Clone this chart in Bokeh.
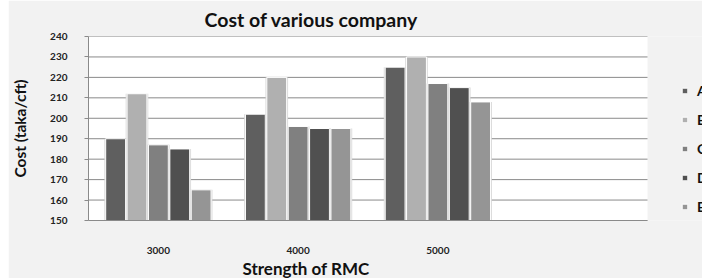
from bokeh.plotting import figure
from bokeh.models import (Range1d, FixedTicker, Legend, LegendItem, Title, ColumnDataSource,
                          BoxAnnotation)
from bokeh.embed import file_html
from bokeh.resources import INLINE

# ---- data ----
strengths = ["3000", "4000", "5000"]
companies = ["A", "B", "C", "D", "E"]
cost_A = [190, 202, 225]
cost_B = [212, 220, 230]
cost_C = [187, 196, 217]
cost_D = [185, 195, 215]
cost_E = [165, 195, 208]
y_ticks = [150, 160, 170, 180, 190, 200, 210, 220, 230, 240]

series = [cost_A, cost_B, cost_C, cost_D, cost_E]
colors = ["#5f5f5f", "#b0b0b0", "#808080", "#505050", "#959595"]
BG = "#f2f2f2"
FONT = "Lato"
GRID = "#8a8a8a"

# plot area (white) spans 4 category slots; legend area sits to its right inside the frame
n_slots = len(strengths) + 1
plot_w, frame_w, frame_h = 559, 614, 184
x_end = n_slots * frame_w / plot_w

p = figure(frame_width=frame_w, frame_height=frame_h, output_backend="svg", toolbar_location=None,
           x_range=Range1d(0, x_end), y_range=Range1d(y_ticks[0], y_ticks[-1]),
           min_border_left=80, min_border_right=0, min_border_top=36, min_border_bottom=58)
p.margin = (0, 0, 0, 8)
p.background_fill_color = BG
p.border_fill_color = BG
p.outline_line_color = None
p.add_layout(BoxAnnotation(left=0, right=n_slots, fill_color="white", fill_alpha=1,
                           line_color=None, level="underlay"))

# horizontal grid lines limited to the plot area
p.segment(x0=[0] * len(y_ticks), x1=[n_slots] * len(y_ticks), y0=y_ticks, y1=y_ticks,
          line_color=GRID, line_width=1)

centers = [i + 0.5 for i in range(len(strengths))]
pitch = 0.153
bw = 0.142
bar_renderers = []
for k, (name, vals, col) in enumerate(zip(companies, series, colors)):
    xs = [c + (k - 2) * pitch for c in centers]
    src = ColumnDataSource(dict(x=xs, top=vals))
    p.vbar(x="x", top="top", bottom=y_ticks[0], width=bw + 0.02, source=src,
           fill_color="#d6d6d6", line_color=None, fill_alpha=0.9)
    r = p.vbar(x="x", top="top", bottom=y_ticks[0], width=bw, source=src,
               fill_color=col, line_color="white", line_width=1)
    bar_renderers.append(r)

# legend
items = [LegendItem(label=name, renderers=[r]) for name, r in zip(companies, bar_renderers)]
legend = Legend(items=items, location=(593, 4), orientation="vertical",
                glyph_width=7, glyph_height=7, label_height=20, spacing=9,
                label_standoff=9, padding=0, margin=0,
                border_line_color=None, background_fill_alpha=0,
                label_text_font=FONT, label_text_font_size="14px",
                label_text_font_style="bold", label_text_color="#111111")
p.add_layout(legend)

# axes
p.xaxis.ticker = FixedTicker(ticks=centers)
p.xaxis.major_label_overrides = {c: s for c, s in zip(centers, strengths)}
p.xaxis.bounds = (0, n_slots)
p.yaxis.ticker = FixedTicker(ticks=y_ticks)
for ax in (p.xaxis[0], p.yaxis[0]):
    ax.axis_line_color = GRID
    ax.major_label_text_font = FONT
    ax.major_label_text_font_size = "10px"
    ax.major_label_text_font_style = "bold"
    ax.major_label_text_color = "#222222"
    ax.minor_tick_line_color = None
p.xaxis.major_tick_line_color = None
p.xaxis.major_label_standoff = 20
p.yaxis.major_tick_line_color = GRID
p.yaxis.major_tick_out = 4
p.yaxis.major_tick_in = 0
p.yaxis.major_label_standoff = 17

p.yaxis.axis_label = "Cost (taka/cft)"
p.yaxis.axis_label_text_font = FONT
p.yaxis.axis_label_text_font_size = "15.5px"
p.yaxis.axis_label_text_font_style = "bold"
p.yaxis.axis_label_text_color = "#111111"
p.yaxis.axis_label_standoff = 18

p.xgrid.grid_line_color = None
p.ygrid.grid_line_color = None

p.add_layout(Title(text="Strength of RMC", align="left", offset=154,
                   text_font=FONT, text_font_size="17px", text_font_style="bold",
                   text_color="#111111", standoff=-1), "below")
p.add_layout(Title(text="Cost of various company", align="left", offset=116,
                   text_font=FONT, text_font_size="19.5px", text_font_style="bold",
                   text_color="#111111", standoff=11), "above")

open("out.html", "w").write(file_html(p, INLINE))
